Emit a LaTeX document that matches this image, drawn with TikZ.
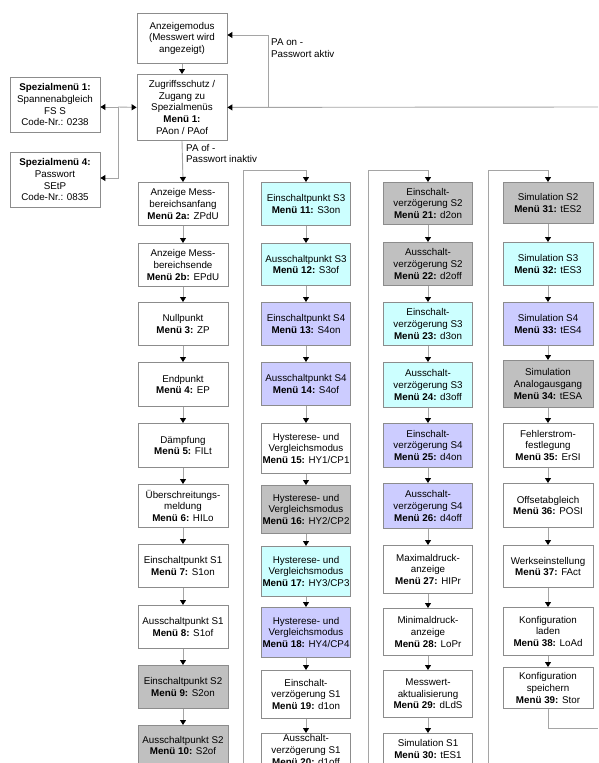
\documentclass[tikz,border=0pt]{standalone}
\usepackage{fontspec}
\setmainfont{Liberation Sans}
\usetikzlibrary{arrows.meta}
\definecolor{bgray}{RGB}{192,192,192}
\definecolor{bcyan}{RGB}{204,255,255}
\definecolor{blav}{RGB}{204,204,255}
\definecolor{edgec}{RGB}{140,140,140}
\definecolor{wirec}{RGB}{165,165,165}
\begin{document}
\begin{tikzpicture}[x=1pt,y=-1pt,
  txt/.style={font=\fontsize{9.8}{11.7}\selectfont},
  box/.style={txt, draw=edgec, line width=0.8pt, fill=white, anchor=north, minimum width=90pt, minimum height=43pt, align=center, inner sep=1pt},
  gbox/.style={box, fill=bgray},
  cbox/.style={box, fill=bcyan},
  lbox/.style={box, fill=blav},
  wire/.style={draw=wirec, line width=0.9pt},
  arr/.style={wire, -{Triangle[length=5pt,width=6pt,color=black]}},
  lbl/.style={txt, align=left, inner sep=0pt}
]
\clip (0,0) rectangle (598,763);
\fill[white] (0,0) rectangle (598,763);

% top
\node[box, minimum height=50pt] (anz) at (182,13) {Anzeigemodus\\(Messwert wird\\angezeigt)};
\node[box, minimum height=66pt] (zug) at (182,74) {Zugriffsschutz /\\Zugang zu\\Spezialmenüs\\\textbf{Menü 1:}\\PAon / PAof};
\node[box, minimum height=55pt] (spez1) at (55,77) {\textbf{Spezialmenü 1:}\\Spannenabgleich\\FS S\\Code-Nr.: 0238};
\node[box, minimum height=55pt] (spez4) at (55,152) {\textbf{Spezialmenü 4:}\\Passwort\\SEtP\\Code-Nr.: 0835};

% column 1
\node[box] (n2a) at (183,182) {Anzeige Mess-\\bereichsanfang\\\textbf{Menü 2a:} ZPdU};
\node[box] (n2b) at (183,243) {Anzeige Mess-\\bereichsende\\\textbf{Menü 2b:} EPdU};
\node[box] (n3) at (183,302) {Nullpunkt\\\textbf{Menü 3:} ZP};
\node[box, minimum height=44pt] (n4) at (183,362) {Endpunkt\\\textbf{Menü 4:} EP};
\node[box, minimum height=44pt] (n5) at (183,423) {Dämpfung\\\textbf{Menü 5:} FILt};
\node[box] (n6) at (183,484) {Überschreitungs-\\meldung\\\textbf{Menü 6:} HILo};
\node[box] (n7) at (183,544) {Einschaltpunkt S1\\\textbf{Menü 7:} S1on};
\node[box] (n8) at (183,605) {Ausschaltpunkt S1\\\textbf{Menü 8:} S1of};
\node[gbox] (n9) at (183,665) {Einschaltpunkt S2\\\textbf{Menü 9:} S2on};
\node[gbox, minimum height=40pt] (n10) at (183,725) {Ausschaltpunkt S2\\\textbf{Menü 10:} S2of};

% column 2
\node[cbox, minimum width=89pt] (n11) at (306,182) {Einschaltpunkt S3\\\textbf{Menü 11:} S3on};
\node[cbox, minimum width=89pt, minimum height=42pt] (n12) at (306,243) {Ausschaltpunkt S3\\\textbf{Menü 12:} S3of};
\node[lbox, minimum width=89pt] (n13) at (306,302) {Einschaltpunkt S4\\\textbf{Menü 13:} S4on};
\node[lbox, minimum width=89pt] (n14) at (306,362) {Ausschaltpunkt S4\\\textbf{Menü 14:} S4of};
\node[box, minimum width=89pt, minimum height=50pt] (n15) at (306,423) {Hysterese- und\\Vergleichsmodus\\\textbf{Menü 15:} HY1/CP1};
\node[gbox, minimum width=89pt, minimum height=48pt] (n16) at (306,485) {Hysterese- und\\Vergleichsmodus\\\textbf{Menü 16:} HY2/CP2};
\node[cbox, minimum width=89pt, minimum height=50pt] (n17) at (306,546) {Hysterese- und\\Vergleichsmodus\\\textbf{Menü 17:} HY3/CP3};
\node[lbox, minimum width=89pt, minimum height=50pt] (n18) at (306,607) {Hysterese- und\\Vergleichsmodus\\\textbf{Menü 18:} HY4/CP4};
\node[box, minimum width=89pt, minimum height=48pt] (n19) at (306,670) {Einschalt-\\verzögerung S1\\\textbf{Menü 19:} d1on};
\node[box, minimum width=89pt, minimum height=33pt] (n20) at (306,733) {Ausschalt-\\verzögerung S1\\\textbf{Menü 20:} d1off};

% column 3
\node[gbox, minimum width=89pt, minimum height=42pt] (n21) at (428,182) {Einschalt-\\verzögerung S2\\\textbf{Menü 21:} d2on};
\node[gbox, minimum width=89pt] (n22) at (428,242) {Ausschalt-\\verzögerung S2\\\textbf{Menü 22:} d2off};
\node[cbox, minimum width=89pt] (n23) at (428,302) {Einschalt-\\verzögerung S3\\\textbf{Menü 23:} d3on};
\node[cbox, minimum width=89pt, minimum height=45pt] (n24) at (428,362) {Ausschalt-\\verzögerung S3\\\textbf{Menü 24:} d3off};
\node[lbox, minimum width=89pt, minimum height=44pt] (n25) at (428,423) {Einschalt-\\verzögerung S4\\\textbf{Menü 25:} d4on};
\node[lbox, minimum width=89pt, minimum height=45pt] (n26) at (428,483) {Ausschalt-\\verzögerung S4\\\textbf{Menü 26:} d4off};
\node[box, minimum width=89pt, minimum height=48pt] (n27) at (428,545) {Maximaldruck-\\anzeige\\\textbf{Menü 27:} HIPr};
\node[box, minimum width=89pt, minimum height=47pt] (n28) at (428,608) {Minimaldruck-\\anzeige\\\textbf{Menü 28:} LoPr};
\node[box, minimum width=89pt, minimum height=47pt] (n29) at (428,670) {Messwert-\\aktualisierung\\\textbf{Menü 29:} dLdS};
\node[box, minimum width=89pt, minimum height=31pt] (n30) at (428,733) {Simulation S1\\\textbf{Menü 30:} tES1};

% column 4
\node[gbox, minimum height=41pt] (n31) at (548,182) {Simulation S2\\\textbf{Menü 31:} tES2};
\node[cbox] (n32) at (548,242) {Simulation S3\\\textbf{Menü 32:} tES3};
\node[lbox] (n33) at (548,302) {Simulation S4\\\textbf{Menü 33:} tES4};
\node[gbox, minimum height=47pt] (n34) at (548,360) {Simulation\\Analogausgang\\\textbf{Menü 34:} tESA};
\node[box, minimum height=44pt] (n35) at (548,423) {Fehlerstrom-\\festlegung\\\textbf{Menü 35:} ErSI};
\node[box, minimum height=44pt] (n36) at (548,483) {Offsetabgleich\\\textbf{Menü 36:} POSI};
\node[box, minimum height=42pt] (n37) at (548,545) {Werkseinstellung\\\textbf{Menü 37:} FAct};
\node[box, minimum height=48pt] (n38) at (548,607) {Konfiguration\\laden\\\textbf{Menü 38:} LoAd};
\node[box, minimum height=41pt] (n39) at (548,667) {Konfiguration\\speichern\\\textbf{Menü 39:} Stor};

% chains
\foreach \a/\b in {n2a/n2b,n2b/n3,n3/n4,n4/n5,n5/n6,n6/n7,n7/n8,n8/n9,n9/n10,
  n11/n12,n12/n13,n13/n14,n14/n15,n15/n16,n16/n17,n17/n18,n18/n19,n19/n20,
  n21/n22,n22/n23,n23/n24,n24/n25,n25/n26,n26/n27,n27/n28,n28/n29,n29/n30,
  n31/n32,n32/n33,n33/n34,n34/n35,n35/n36,n36/n37,n37/n38,n38/n39}
  \draw[arr] (\a.south) -- (\b.north);

% column entries
\coordinate (c2b) at (243,763); \coordinate (c2t) at (243,170);
\coordinate (c3b) at (368,763); \coordinate (c3t) at (368,170);
\coordinate (c4b) at (488,763); \coordinate (c4t) at (488,170);
\draw[arr] (c2b) -- (c2t) -| (n11.north);
\draw[arr] (c3b) -- (c3t) -| (n21.north);
\draw[arr] (c4b) -- (c4t) -| (n31.north);

% return from 39
\coordinate (ret) at (598,728);
\draw[wire] (n39.south) |- (ret);

% top connectors
\draw[arr] (anz.south) -- (zug.north);
\draw[arr] (zug.south) -- (n2a.north);
\coordinate (rin) at (598,107);
\draw[arr] (rin) -- (zug.east);
\coordinate (k1) at (268,107); \coordinate (k2) at (268,35);
\draw[arr] (k1) -- (k2) -- (k2 -| anz.east);
\coordinate (j) at (118,107); \coordinate (j2) at (118,178);
\draw[arr] (j) -- (zug.west);
\draw[arr] (j) -- (j -| spez1.east);
\draw[arr] (j) -- (j2) -- (j2 -| spez4.east);

% labels
\node[lbl, anchor=north west] (lpaon) at (271,39) {PA on -\\Passwort aktiv};
\node[lbl, anchor=north west] (lpaof) at (186,144) {PA of -\\Passwort inaktiv};
\end{tikzpicture}
\end{document}
